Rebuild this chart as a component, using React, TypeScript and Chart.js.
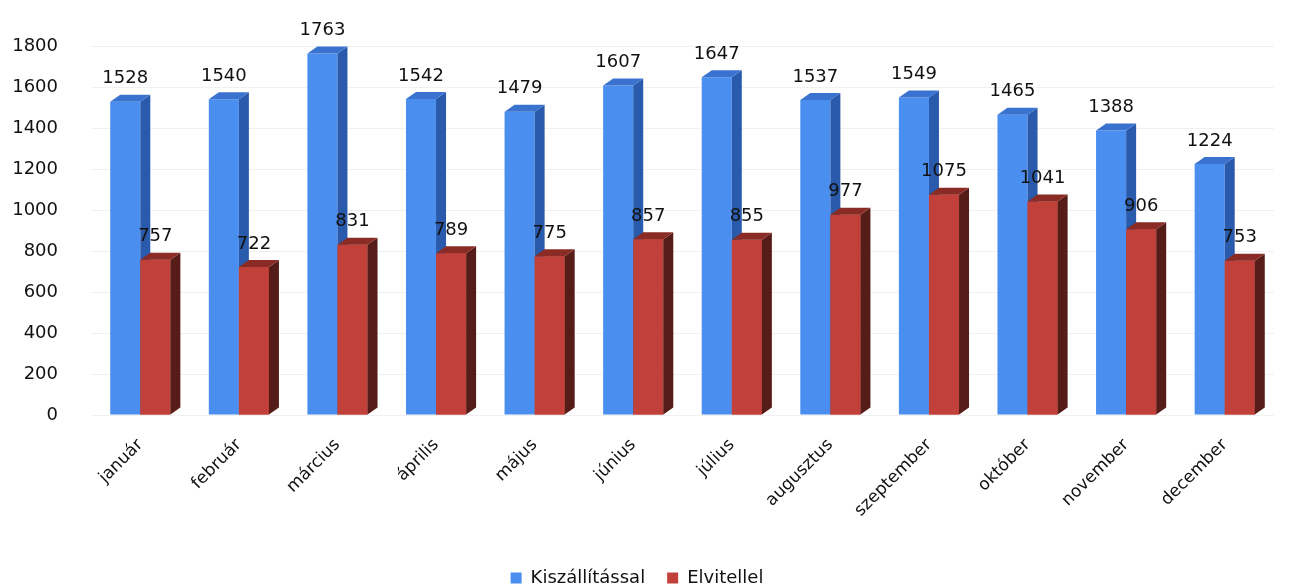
import { useEffect, useRef } from "react";
import { Chart, registerables } from "chart.js";

Chart.register(...registerables);

const months = [
  "január", "február", "március", "április", "május", "június",
  "július", "augusztus", "szeptember", "október", "november", "december",
];
const kiszallitassal = [1528, 1540, 1763, 1542, 1479, 1607, 1647, 1537, 1549, 1465, 1388, 1224];
const elvitellel = [757, 722, 831, 789, 775, 857, 855, 977, 1075, 1041, 906, 753];
const seriesNames = ["Kiszállítással", "Elvitellel"];
const yMin = 0;
const yMax = 1800;
const yStep = 200;

const FONT = "'DejaVu Sans', sans-serif";
const frontColors = ["#4a8ef0", "#c2403a"];
const sideColors = ["#2a5aab", "#561c17"];
const topColors = ["#3a72d0", "#8a2c25"];
const DX = 10;
const DY = 7;

function drawFaces(ctx: any, el: any, i: number) {
  const { x, y, base, width } = el.getProps(["x", "y", "base", "width"], true);
  const l = x - width / 2;
  const r = x + width / 2;
  ctx.save();
  ctx.fillStyle = sideColors[i];
  ctx.beginPath();
  ctx.moveTo(r, y);
  ctx.lineTo(r + DX, y - DY);
  ctx.lineTo(r + DX, base - DY);
  ctx.lineTo(r, base);
  ctx.closePath();
  ctx.fill();
  ctx.fillStyle = topColors[i];
  ctx.beginPath();
  ctx.moveTo(l, y);
  ctx.lineTo(l + DX, y - DY);
  ctx.lineTo(r + DX, y - DY);
  ctx.lineTo(r, y);
  ctx.closePath();
  ctx.fill();
  ctx.restore();
}

// 3D faces: series drawn left to right so each front face covers the
// previous series' side face
const bar3d = {
  id: "bar3d",
  afterDatasetsDraw(chart: any) {
    const ctx = chart.ctx;
    chart.data.datasets.forEach((_ds: any, di: number) => {
      const meta = chart.getDatasetMeta(di);
      meta.data.forEach((el: any) => {
        if (di > 0) el.draw(ctx, chart.chartArea);
        drawFaces(ctx, el, di);
      });
    });
  },
};

const valueLabels = {
  id: "valueLabels",
  afterDatasetsDraw(chart: any) {
    const ctx = chart.ctx;
    ctx.save();
    ctx.font = `18px ${FONT}`;
    ctx.fillStyle = "#111";
    ctx.textAlign = "center";
    ctx.textBaseline = "middle";
    chart.data.datasets.forEach((ds: any, di: number) => {
      const meta = chart.getDatasetMeta(di);
      meta.data.forEach((el: any, j: number) => {
        const { x, y } = el.getProps(["x", "y"], true);
        ctx.fillText(String(ds.data[j]), x, y - 23);
      });
    });
    ctx.restore();
  },
};

export default function App() {
  const ref = useRef<HTMLCanvasElement | null>(null);

  useEffect(() => {
    document.body.style.margin = "0";
    const canvas = ref.current;
    if (!canvas) return;
    const chart = new Chart(canvas, {
      type: "bar",
      data: {
        labels: months,
        datasets: [
          {
            label: seriesNames[0],
            data: kiszallitassal,
            backgroundColor: frontColors[0],
            borderWidth: 0,
          },
          {
            label: seriesNames[1],
            data: elvitellel,
            backgroundColor: frontColors[1],
            borderWidth: 0,
          },
        ],
      },
      options: {
        animation: false,
        responsive: true,
        maintainAspectRatio: false,
        layout: { padding: { top: 46, right: 22, left: 0, bottom: -9 } },
        datasets: {
          bar: { categoryPercentage: 0.61, barPercentage: 1 },
        },
        scales: {
          x: {
            grid: { display: false, drawTicks: false },
            border: { display: false },
            ticks: {
              font: { family: FONT, size: 17 },
              color: "#111",
              maxRotation: 45,
              minRotation: 45,
              padding: 20,
              autoSkip: false,
            },
            afterFit: (s: any) => {
              s.height = 132;
            },
          },
          y: {
            min: yMin,
            max: yMax,
            grid: { color: "rgba(0,0,0,0.06)", drawTicks: false },
            border: { display: false },
            ticks: {
              stepSize: yStep,
              font: { family: FONT, size: 18 },
              color: "#111",
              padding: 33,
              callback: (v: any) => String(v),
            },
            afterFit: (s: any) => {
              s.width = 91;
            },
          },
        },
        plugins: {
          legend: {
            position: "bottom",
            labels: {
              boxWidth: 11,
              boxHeight: 11,
              padding: 22,
              font: { family: FONT, size: 18 },
              color: "#111",
            },
          },
          tooltip: { enabled: false },
        },
      },
      plugins: [bar3d, valueLabels],
    });
    return () => chart.destroy();
  }, []);

  return (
    <div style={{ width: "1296px", height: "588px", position: "relative" }}>
      <canvas ref={ref} />
    </div>
  );
}
